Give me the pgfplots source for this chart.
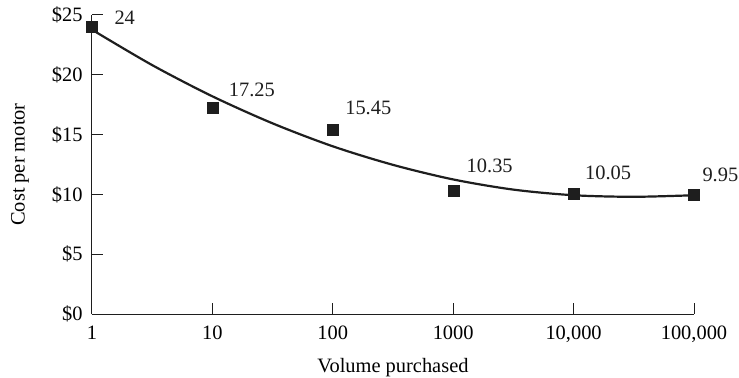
\documentclass[border=0pt]{standalone}
\usepackage{fontspec}
\setmainfont{Liberation Serif}
\usepackage{pgfplots}
\pgfplotsset{compat=1.18}
\definecolor{ink}{HTML}{1E1E1E}
\begin{document}
\begin{tikzpicture}[font=\fontsize{20.5}{24}\selectfont]
\useasboundingbox (-92bp,-64bp) rectangle (647bp,314bp);
\begin{axis}[
  at={(0,0)}, anchor=south west,
  scale only axis,
  width=602bp, height=299bp,
  xmode=log, log basis x=10,
  xmin=1, xmax=100000,
  ymin=0, ymax=25,
  axis x line*=bottom, axis y line*=left,
  axis line style={ink, line width=1bp},
  tick align=inside,
  major tick length=11bp,
  tick style={ink, line width=1bp},
  xminorticks=false,
  xtick={1,10,100,1000,10000,100000},
  xticklabels={1,10,100,1000,{10,000},{100,000}},
  ytick={0,5,10,15,20,25},
  yticklabels={\$0,\$5,\$10,\$15,\$20,\$25},
  xticklabel style={yshift=-8bp},
  yticklabel style={xshift=-6bp},
  xlabel={Volume purchased},
  ylabel={Cost per motor},
  x label style={at={(axis description cs:0.5,0)}, anchor=center, yshift=-54bp},
  y label style={at={(axis description cs:0,0.5)}, anchor=center, yshift=72bp},
  clip=false,
]
% trend line
\addplot[ink, line width=2.2bp, smooth, no marks] coordinates {
  (1,23.77) (3.162,20.81) (10,18.20) (31.62,15.94) (100,14.02)
  (316.2,12.47) (1000,11.25) (3162,10.40) (10000,9.93) (31623,9.80) (100000,9.93)
};
% data points
\addplot[only marks, mark=square*, mark size=5.5bp, mark options={fill=ink, draw=ink}] coordinates {
  (1,24) (10,17.25) (100,15.45) (1000,10.35) (10000,10.05) (100000,9.95)
};
\node[anchor=west, ink] at (axis cs:1,24) [xshift=19bp, yshift=9bp] {24};
\node[anchor=west, ink] at (axis cs:10,17.25) [xshift=13bp, yshift=18bp] {17.25};
\node[anchor=west, ink] at (axis cs:100,15.45) [xshift=9bp, yshift=21bp] {15.45};
\node[anchor=west, ink] at (axis cs:1000,10.35) [xshift=10bp, yshift=24bp] {10.35};
\node[anchor=west, ink] at (axis cs:10000,10.05) [xshift=8bp, yshift=21bp] {10.05};
\node[anchor=west, ink] at (axis cs:100000,9.95) [xshift=5bp, yshift=20bp] {9.95};
\end{axis}
\end{tikzpicture}
\end{document}
